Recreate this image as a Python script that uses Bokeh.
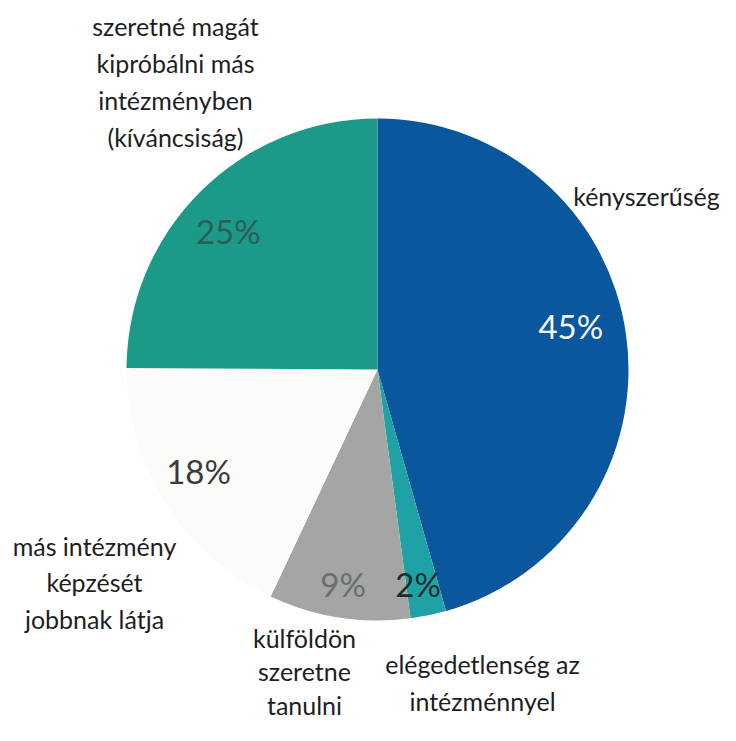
import math
from bokeh.plotting import figure
from bokeh.models import Range1d, ColumnDataSource
from bokeh.embed import file_html
from bokeh.resources import INLINE
from bokeh.core.properties import value

# ---- data ----
categories = [
    "kényszerűség",
    "elégedetlenség az\nintézménnyel",
    "külföldön\nszeretne\ntanulni",
    "más intézmény\nképzését\njobbnak látja",
    "szeretné magát\nkipróbálni más\nintézményben\n(kíváncsiság)",
]
shares = [45.6, 2.3, 9.1, 18.1, 24.9]
pct_labels = ["45%", "2%", "9%", "18%", "25%"]

# ---- style / layout ----
W, H = 720, 725
slice_colors = ["#0b579e", "#1fa2a6", "#a4a6a6", "#fbfbf9", "#1b9a88"]
pct_colors = ["#f5f7fa", "#1b2a2a", "#6a6d6d", "#3a3a3a", "#2c5d57"]
pct_radius = [0.79, 0.87, 0.865, 0.82, 0.81]
pct_nudge_deg = [-4.9, 1.0, 0.3, 2.6, -2.4]
cx, cy, R = 377, 356, 251
cat_pos = [(646, 530), (482, 43), (304, 54), (94, 143), (175, 644)]
cat_line_h = [1.23, 1.23, 1.12, 1.23, 1.23]

total = sum(shares)
starts, ends, mids = [], [], []
acc = 0.0
for s in shares:
    a0 = acc / total * 2 * math.pi
    acc += s
    a1 = acc / total * 2 * math.pi
    starts.append(math.pi / 2 - a0)
    ends.append(math.pi / 2 - a1)
    mids.append(math.pi / 2 - (a0 + a1) / 2)

src = ColumnDataSource(dict(start=starts, end=ends, color=slice_colors))

p = figure(width=W, height=H, x_range=Range1d(0, W), y_range=Range1d(0, H),
           output_backend="svg", toolbar_location=None, min_border=0)
p.axis.visible = False
p.grid.visible = False
p.outline_line_color = None
p.background_fill_color = "#ffffff"

p.wedge(x=cx, y=cy, radius=R, start_angle="start", end_angle="end",
        direction="clock", fill_color="color", line_color=None, source=src)

ang = [m - math.radians(n) for m, n in zip(mids, pct_nudge_deg)]
lx = [cx + f * R * math.cos(a) for f, a in zip(pct_radius, ang)]
ly = [cy + f * R * math.sin(a) for f, a in zip(pct_radius, ang)]
p.text(x=lx, y=ly, text=pct_labels, text_color=pct_colors,
       text_font=value("Lato"), text_font_size="33px",
       text_align="center", text_baseline="middle")

for (x, y), t, lh in zip(cat_pos, categories, cat_line_h):
    p.text(x=[x], y=[y], text=[t],
           text_color="#1e1e1e", text_font=value("Lato"), text_font_size="25px",
           text_align="center", text_baseline="middle", text_line_height=lh)

open("out.html", "w").write(file_html(p, INLINE))
